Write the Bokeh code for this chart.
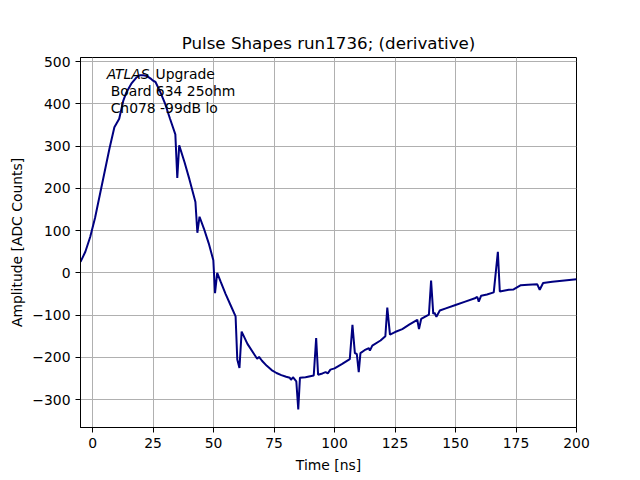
import numpy as np

from bokeh.embed import file_html
from bokeh.models import FixedTicker, Label
from bokeh.plotting import figure
from bokeh.resources import INLINE

# pulse shape (time in ns, amplitude in ADC counts)
time_ns = [
    -5, -3, -1, 1, 3, 5, 7, 9, 10, 11, 12.7, 14, 16, 18, 19.5, 21, 22.5, 24,
    25, 26, 28, 30, 32, 34.2, 35, 35.8, 38, 40, 42.5, 43.3, 44.2, 46, 48,
    49.9, 50.6, 51.5, 53, 55, 57, 59.1, 59.8, 60.7, 61.6, 64, 67.4, 68, 68.8,
    70, 72, 74, 76, 78, 80, 81.5, 82, 82.8, 84.2, 85, 85.7, 88, 91.4, 92.4,
    93.2, 95, 96.3, 97.2, 98.3, 100, 103, 106.3, 107.4, 108.4, 109.2, 110,
    110.7, 112.4, 114.2, 114.6, 115.6, 119, 121, 121.8, 122.9, 125, 128, 131,
    134.2, 134.9, 135.8, 139, 139.9, 140.8, 141.3, 142.1, 143.5, 146, 150,
    154, 158, 159, 159.6, 160.6, 163, 165.8, 167.5, 168.3, 172, 174, 177,
    180, 183.8, 184.8, 186.2, 190, 195, 200,
]
amplitude = [
    26, 50, 85, 130, 185, 240, 295, 345, 355, 365, 408, 428, 448, 462, 468,
    468, 466, 460, 455, 452, 428, 400, 365, 328, 225, 302, 262, 222, 168, 95,
    133, 105, 70, 30, -48, 0, -22, -50, -76, -103, -205, -225, -139, -168,
    -198, -203, -199, -208, -220, -230, -237, -242, -246, -248, -253, -247,
    -257, -323, -248, -247, -243, -154, -241, -238, -235, -238, -229, -226,
    -216, -204, -123, -190, -192, -235, -190, -183, -178, -184, -172, -160,
    -150, -82, -146, -140, -133, -122, -111, -133, -109, -99, -18, -97, -94,
    -104, -89, -84, -76, -68, -60, -57, -68, -54, -51, -46, 50, -44, -40,
    -39, -29, -28, -27, -40, -24, -21, -18, -15,
]

x_ticks = [0, 25, 50, 75, 100, 125, 150, 175, 200]
y_ticks = [-300, -200, -100, 0, 100, 200, 300, 400, 500]

FONT = "DejaVu Sans"

p = figure(
    title="Pulse Shapes run1736; (derivative)",
    frame_width=496,
    frame_height=370,
    x_range=(-5, 200),
    y_range=(-366, 510),
    x_axis_label="Time [ns]",
    y_axis_label="Amplitude [ADC Counts]",
    toolbar_location=None,
    tools="",
    output_backend="svg",
    min_border_left=80,
    min_border_right=56,
    min_border_top=57,
    min_border_bottom=45,
)

p.title.align = "center"
p.title.text_font = FONT
p.title.text_font_size = "16.7px"
p.title.text_font_style = "normal"
p.title.text_color = "black"

p.outline_line_color = "black"
p.outline_line_width = 1
p.outline_line_alpha = 1

for axis in (p.xaxis[0], p.yaxis[0]):
    axis.axis_label_text_font = FONT
    axis.axis_label_text_font_size = "13.9px"
    axis.axis_label_text_font_style = "normal"
    axis.axis_label_text_color = "black"
    axis.major_label_text_font = FONT
    axis.major_label_text_font_size = "13.9px"
    axis.major_label_text_color = "black"
    axis.axis_line_color = "black"
    axis.major_tick_line_color = "black"
    axis.major_tick_out = 5
    axis.major_tick_in = 0
    axis.minor_tick_line_color = None
    axis.axis_label_standoff = 6

p.yaxis.axis_label_standoff = 4

p.xaxis.ticker = FixedTicker(ticks=x_ticks)
p.yaxis.ticker = FixedTicker(ticks=y_ticks)

p.grid.grid_line_color = "#b0b0b0"
p.grid.grid_line_width = 1
p.xgrid.ticker = FixedTicker(ticks=x_ticks)
p.ygrid.ticker = FixedTicker(ticks=y_ticks)

p.line(np.array(time_ns), np.array(amplitude), line_color="#000080", line_width=2)

label_style = dict(text_font=FONT, text_font_size="13.9px", text_color="black",
                   text_baseline="middle")
p.add_layout(Label(x=5.8, y=470, text="ATLAS", text_font_style="italic", **label_style))
p.add_layout(Label(x=26.0, y=470, text="Upgrade", **label_style))
p.add_layout(Label(x=5.8, y=430, x_offset=4, text="Board 634 25ohm", **label_style))
p.add_layout(Label(x=5.8, y=390, x_offset=4, text="Ch078 -99dB lo", **label_style))

open("out.html", "w").write(file_html(p, INLINE))
